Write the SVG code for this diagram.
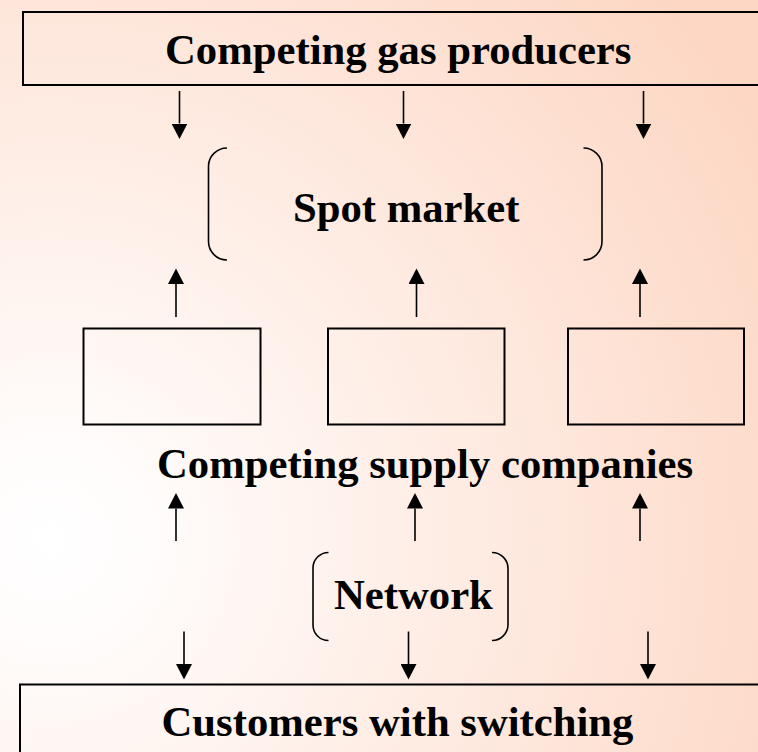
<svg xmlns="http://www.w3.org/2000/svg" width="758" height="752" viewBox="0 0 758 752">
  <defs>
    <radialGradient id="bg" gradientUnits="userSpaceOnUse" cx="50" cy="540" r="820">
      <stop offset="0" stop-color="#FFFFFF"/>
      <stop offset="0.12" stop-color="#FFFCFB"/>
      <stop offset="1" stop-color="#FDD7C4"/>
    </radialGradient>
    <marker id="head" markerUnits="userSpaceOnUse" markerWidth="16" markerHeight="16" refX="0" refY="8" orient="auto">
      <path d="M0,0 L15.5,8 L0,16 Z" fill="#000"/>
    </marker>
  </defs>
  <style>
    .t { font-family: "Liberation Serif", "Times New Roman", serif; font-weight: bold; font-size: 42.7px; fill: #000; }
    .box { fill: none; stroke: #000; stroke-width: 2; }
    .brk { fill: none; stroke: #000; stroke-width: 1.6; }
    .arr { stroke: #000; stroke-width: 1.6; fill: none; marker-end: url(#head); }
  </style>
  <rect x="0" y="0" width="758" height="752" fill="url(#bg)"/>

  <g id="producers">
    <rect class="box" x="23" y="12" width="760" height="73"/>
    <text class="t" x="165" y="64">Competing gas producers</text>
  </g>

  <g id="spot-market">
    <path class="brk" d="M227,148 A18.5,18.5 0 0 0 208.5,166.5 V241.5 A18.5,18.5 0 0 0 227,260"/>
    <path class="brk" d="M583.5,148 A18.5,18.5 0 0 1 602,166.5 V241.5 A18.5,18.5 0 0 1 583.5,260"/>
    <text class="t" x="293" y="222">Spot market</text>
  </g>

  <g id="supply1"><rect class="box" x="83.5" y="328.5" width="177" height="96"/></g>
  <g id="supply2"><rect class="box" x="328" y="328.5" width="176.5" height="96"/></g>
  <g id="supply3"><rect class="box" x="568" y="328.5" width="176" height="96"/></g>
  <g id="supply-label">
    <text class="t" x="157" y="478">Competing supply companies</text>
  </g>

  <g id="network">
    <path class="brk" d="M328.5,552.5 A15.5,15.5 0 0 0 313,568 V625 A15.5,15.5 0 0 0 328.5,640.5"/>
    <path class="brk" d="M492,552.5 A16,16 0 0 1 508,568.5 V624.5 A16,16 0 0 1 492,640.5"/>
    <text class="t" x="334" y="609">Network</text>
  </g>

  <g id="customers">
    <rect class="box" x="20" y="684.5" width="760" height="100"/>
    <text class="t" x="161.5" y="736">Customers with switching</text>
  </g>

  <g id="connectors">
    <line class="arr" x1="179.5" y1="91" x2="179.5" y2="123.5"/>
    <line class="arr" x1="403.5" y1="91" x2="403.5" y2="123.5"/>
    <line class="arr" x1="643.5" y1="91" x2="643.5" y2="123.5"/>

    <line class="arr" x1="176" y1="317" x2="176" y2="284"/>
    <line class="arr" x1="416.5" y1="317" x2="416.5" y2="284"/>
    <line class="arr" x1="640" y1="317" x2="640" y2="284"/>

    <line class="arr" x1="176" y1="541" x2="176" y2="508.5"/>
    <line class="arr" x1="415" y1="541" x2="415" y2="508.5"/>
    <line class="arr" x1="640" y1="541" x2="640" y2="508.5"/>

    <line class="arr" x1="184" y1="631.5" x2="184" y2="664"/>
    <line class="arr" x1="408.5" y1="631.5" x2="408.5" y2="664"/>
    <line class="arr" x1="648" y1="631.5" x2="648" y2="664"/>
  </g>
</svg>
